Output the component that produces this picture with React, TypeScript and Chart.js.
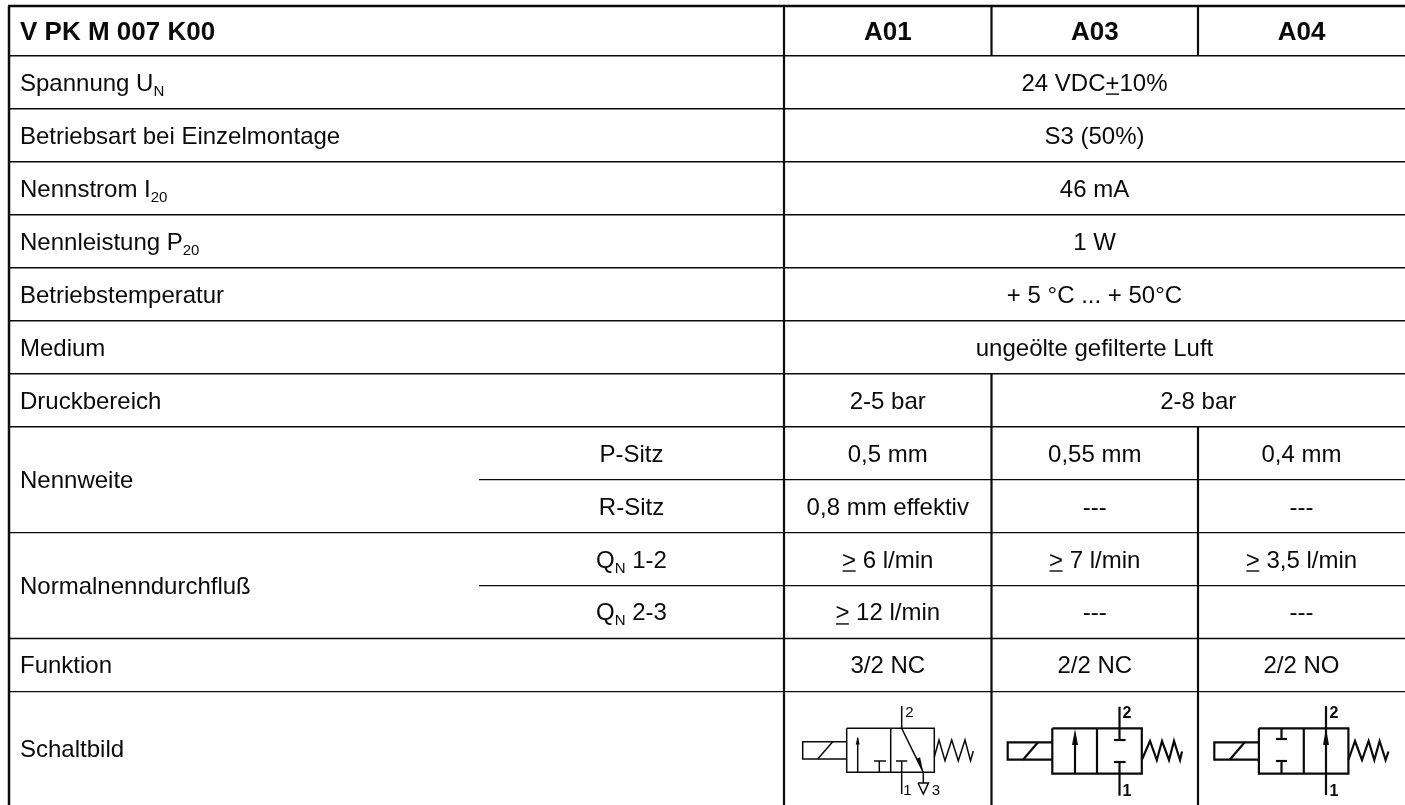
import React, { useEffect, useRef } from "react";
import { Chart, registerables } from "chart.js";

Chart.register(...registerables);

// ---- table content ("~x~" = subscript, "^x^" = underlined) ----
const headerTitle = "V PK M 007 K00";
const variants = ["A01", "A03", "A04"];
const rowLabels = [
  "Spannung U~N~",
  "Betriebsart bei Einzelmontage",
  "Nennstrom I~20~",
  "Nennleistung P~20~",
  "Betriebstemperatur",
  "Medium",
  "Druckbereich",
  "Nennweite",
  "Normalnenndurchfluß",
  "Funktion",
  "Schaltbild",
];
const subLabels = ["P-Sitz", "R-Sitz", "Q~N~ 1-2", "Q~N~ 2-3"];
const commonValues = [
  "24 VDC^+^10%",
  "S3 (50%)",
  "46 mA",
  "1 W",
  "+ 5 °C ... + 50°C",
  "ungeölte gefilterte Luft",
];
const pressureValues = ["2-5 bar", "2-8 bar"];
const a01Values = ["0,5 mm", "0,8 mm effektiv", "^>^ 6 l/min", "^>^ 12 l/min", "3/2 NC"];
const a03Values = ["0,55 mm", "---", "^>^ 7 l/min", "---", "2/2 NC"];
const a04Values = ["0,4 mm", "---", "^>^ 3,5 l/min", "---", "2/2 NO"];

// ---- table grid, in axis units ----
const colEdges = [9, 479, 784, 991.5, 1198, 1405];
const rowEdges = [6, 55.7, 108.7, 161.8, 214.8, 267.7, 320.7, 373.7, 426.7, 479.6, 532.6, 585.6, 638.5, 691.6, 805];

type P = [number, number];
type Stroke = { pts: P[]; w: number };

const gridLines = (): Stroke[] => {
  const out: Stroke[] = [];
  const [L, S, A, B, C, R] = colEdges;
  const y = rowEdges;
  out.push({ pts: [[L - 1, y[0]], [R, y[0]]], w: 2.5 });
  y.slice(1, 14).forEach((v, i) => {
    const partial = i + 1 === 9 || i + 1 === 11;
    out.push({ pts: [[partial ? S : L, v], [R, v]], w: 1.4 });
  });
  out.push({ pts: [[L, y[0]], [L, y[14]]], w: 2.5 });
  out.push({ pts: [[A, y[0]], [A, y[14]]], w: 2.2 });
  out.push({ pts: [[B, y[0]], [B, y[1]]], w: 2.2 });
  out.push({ pts: [[C, y[0]], [C, y[1]]], w: 2.2 });
  out.push({ pts: [[B, y[7]], [B, y[14]]], w: 2.2 });
  out.push({ pts: [[C, y[8]], [C, y[14]]], w: 2.2 });
  return out;
};

// ---- valve symbols ----
const thin = 1.5;
const bold = 2.2;
const a01Symbol: P[][] = [
  [[846.7, 741.7], [802.7, 741.7], [802.7, 759], [846.7, 759]],
  [[817.7, 759], [832.7, 741.7]],
  [[846.7, 728.3], [934.3, 728.3], [934.3, 772.3], [846.7, 772.3], [846.7, 728.3]],
  [[890.7, 728.3], [890.7, 772.3]],
  [[857.7, 772.3], [857.7, 738]],
  [[879.3, 772.3], [879.3, 761]],
  [[874, 761], [886, 761]],
  [[901.7, 794], [901.7, 761]],
  [[896, 761], [907.3, 761]],
  [[901.7, 706], [901.7, 728.3], [923.3, 772.3], [923.3, 783]],
  [[918, 783], [928.5, 783], [923.3, 794], [918, 783]],
  [[934.3, 757], [939, 740], [945, 760.7], [951.7, 740], [958.3, 760.7], [965, 740], [970.5, 760.7], [973.3, 751]],
];
const a03Symbol: P[][] = [
  [[1052.3, 742.3], [1007.7, 742.3], [1007.7, 759.7], [1052.3, 759.7]],
  [[1023, 759.7], [1038, 742.3]],
  [[1052.3, 728.3], [1141.8, 728.3], [1141.8, 773.7], [1052.3, 773.7], [1052.3, 728.3]],
  [[1097, 728.3], [1097, 773.7]],
  [[1075, 773.7], [1075, 738]],
  [[1119.5, 706.7], [1119.5, 740]],
  [[1114, 740], [1125.6, 740]],
  [[1119.5, 795.7], [1119.5, 762]],
  [[1114, 762], [1125.6, 762]],
  [[1141.8, 760], [1150, 741], [1156.8, 760], [1162, 741], [1169, 760], [1174, 741], [1180, 760], [1182, 751.5]],
];
const a04Symbol: P[][] = [
  [[1258.9, 742.3], [1214.3, 742.3], [1214.3, 759.7], [1258.9, 759.7]],
  [[1229.7, 759.7], [1244.7, 742.3]],
  [[1258.9, 728.3], [1348.4, 728.3], [1348.4, 773.7], [1258.9, 773.7], [1258.9, 728.3]],
  [[1303.8, 728.3], [1303.8, 773.7]],
  [[1281.5, 728.3], [1281.5, 739]],
  [[1276, 739], [1287, 739]],
  [[1281.5, 773.7], [1281.5, 761]],
  [[1276, 761], [1287, 761]],
  [[1326, 706], [1326, 795]],
  [[1348.4, 760], [1355, 741], [1362, 760], [1368.6, 741], [1374.3, 760], [1379.6, 741], [1385.6, 760], [1388.5, 751.5]],
];
const arrowHeads: { tip: P; base: P; half: number }[] = [
  { tip: [857.7, 736.5], base: [857.7, 744.5], half: 2 },
  { tip: [923.3, 772.3], base: [918.2, 758], half: 2 },
  { tip: [1075, 729], base: [1075, 745], half: 3 },
  { tip: [1326, 728], base: [1326, 745], half: 3 },
];
const symbolLabels: { text: string; x: number; y: number; weight: string; size: number }[] = [
  { text: "2", x: 909.5, y: 717, weight: "400", size: 15 },
  { text: "1", x: 907.5, y: 794.5, weight: "400", size: 15 },
  { text: "3", x: 936, y: 794.5, weight: "400", size: 15 },
  { text: "2", x: 1127, y: 718, weight: "700", size: 16 },
  { text: "1", x: 1127, y: 796, weight: "700", size: 16 },
  { text: "2", x: 1334, y: 718, weight: "700", size: 16 },
  { text: "1", x: 1334, y: 796, weight: "700", size: 16 },
];

const INK = "#0a0a0a";
const FONT = '"Liberation Sans", Arial, sans-serif';
const BODY = 24;
const HEAD = 26;
const SUB = 15;

const strokes: Stroke[] = [
  ...gridLines(),
  ...a01Symbol.map((pts) => ({ pts, w: thin })),
  ...a03Symbol.map((pts) => ({ pts, w: bold })),
  ...a04Symbol.map((pts) => ({ pts, w: bold })),
];

type Cell = { text: string; x0: number; x1: number | null; row: [number, number]; bold?: boolean };

const buildCells = (): Cell[] => {
  const c: Cell[] = [];
  const [L, S, A, B, K, R] = colEdges;
  const left = L + 11;
  const colMid = [[A, B], [B, K], [K, R]];
  c.push({ text: headerTitle, x0: left, x1: null, row: [0, 1], bold: true });
  variants.forEach((v, i) =>
    c.push({ text: v, x0: colMid[i][0], x1: colMid[i][1], row: [0, 1], bold: true })
  );
  const labelRows: [number, number][] = [
    [1, 2], [2, 3], [3, 4], [4, 5], [5, 6], [6, 7], [7, 8], [8, 10], [10, 12], [12, 13], [13, 14],
  ];
  rowLabels.forEach((t, i) => c.push({ text: t, x0: left, x1: null, row: labelRows[i] }));
  subLabels.forEach((t, i) => c.push({ text: t, x0: S, x1: A, row: [8 + i, 9 + i] }));
  commonValues.forEach((t, i) => c.push({ text: t, x0: A, x1: R, row: [1 + i, 2 + i] }));
  c.push({ text: pressureValues[0], x0: A, x1: B, row: [7, 8] });
  c.push({ text: pressureValues[1], x0: B, x1: R, row: [7, 8] });
  [a01Values, a03Values, a04Values].forEach((vals, col) =>
    vals.forEach((t, i) =>
      c.push({ text: t, x0: colMid[col][0], x1: colMid[col][1], row: [8 + i, 9 + i] })
    )
  );
  return c;
};

type Run = { t: string; sub: boolean; under: boolean };
const parseRuns = (s: string): Run[] => {
  const runs: Run[] = [];
  const re = /~([^~]+)~|\^([^^]+)\^|([^~^]+)/g;
  let m: RegExpExecArray | null;
  while ((m = re.exec(s))) {
    if (m[1]) runs.push({ t: m[1], sub: true, under: false });
    else if (m[2]) runs.push({ t: m[2], sub: false, under: true });
    else runs.push({ t: m[3], sub: false, under: false });
  }
  return runs;
};

const tablePlugin = {
  id: "tableText",
  afterDatasetsDraw(chart: any) {
    const { ctx, scales } = chart;
    const X = (v: number) => scales.x.getPixelForValue(v);
    const Y = (v: number) => scales.y.getPixelForValue(v);
    ctx.save();
    ctx.fillStyle = INK;
    ctx.strokeStyle = INK;
    ctx.textBaseline = "alphabetic";
    ctx.textAlign = "left";
    arrowHeads.forEach(({ tip, base, half }) => {
      const dx = tip[0] - base[0];
      const dy = tip[1] - base[1];
      const len = Math.hypot(dx, dy);
      const nx = (-dy / len) * half;
      const ny = (dx / len) * half;
      ctx.beginPath();
      ctx.moveTo(X(tip[0]), Y(tip[1]));
      ctx.lineTo(X(base[0] + nx), Y(base[1] + ny));
      ctx.lineTo(X(base[0] - nx), Y(base[1] - ny));
      ctx.closePath();
      ctx.fill();
    });
    ctx.textAlign = "center";
    symbolLabels.forEach((l) => {
      ctx.font = `${l.weight} ${l.size}px ${FONT}`;
      ctx.fillText(l.text, X(l.x), Y(l.y));
    });
    ctx.textAlign = "left";
    buildCells().forEach((cell) => {
      const size = cell.bold ? HEAD : BODY;
      const weight = cell.bold ? "700" : "400";
      const runs = parseRuns(cell.text);
      const fontOf = (r: Run) => `${weight} ${r.sub ? SUB : size}px ${FONT}`;
      const widthOf = (r: Run) => {
        ctx.font = fontOf(r);
        return ctx.measureText(r.t).width;
      };
      const total = runs.reduce((a, r) => a + widthOf(r), 0);
      let x = cell.x1 === null ? X(cell.x0) : (X(cell.x0) + X(cell.x1)) / 2 - total / 2;
      const base = (Y(rowEdges[cell.row[0]]) + Y(rowEdges[cell.row[1]])) / 2 + size * 0.35;
      runs.forEach((r) => {
        ctx.font = fontOf(r);
        const w = ctx.measureText(r.t).width;
        ctx.fillText(r.t, x, r.sub ? base + 5 : base);
        if (r.under) {
          ctx.lineWidth = 1.4;
          ctx.beginPath();
          ctx.moveTo(x + 0.5, base + 3.5);
          ctx.lineTo(x + w - 0.5, base + 3.5);
          ctx.stroke();
        }
        x += w;
      });
    });
    ctx.restore();
  },
};

export default function App() {
  const ref = useRef<HTMLCanvasElement>(null);
  useEffect(() => {
    document.body.style.margin = "0";
    document.body.style.background = "#ffffff";
    const chart = new Chart(ref.current!, {
      type: "scatter",
      data: {
        datasets: strokes.map((s) => ({
          data: s.pts.map(([x, y]) => ({ x, y })),
          showLine: true,
          pointRadius: 0,
          borderColor: INK,
          borderWidth: s.w,
          tension: 0,
          fill: false,
          clip: false as any,
        })),
      },
      options: {
        animation: false,
        responsive: false,
        devicePixelRatio: 1,
        layout: { padding: 0 },
        plugins: { legend: { display: false }, tooltip: { enabled: false }, title: { display: false } },
        scales: {
          x: { type: "linear", min: 0, max: 1405, display: false },
          y: { type: "linear", min: 0, max: 805, reverse: true, display: false },
        },
      },
      plugins: [tablePlugin],
    });
    return () => chart.destroy();
  }, []);
  return <canvas ref={ref} width={1405} height={805} style={{ display: "block" }} />;
}
